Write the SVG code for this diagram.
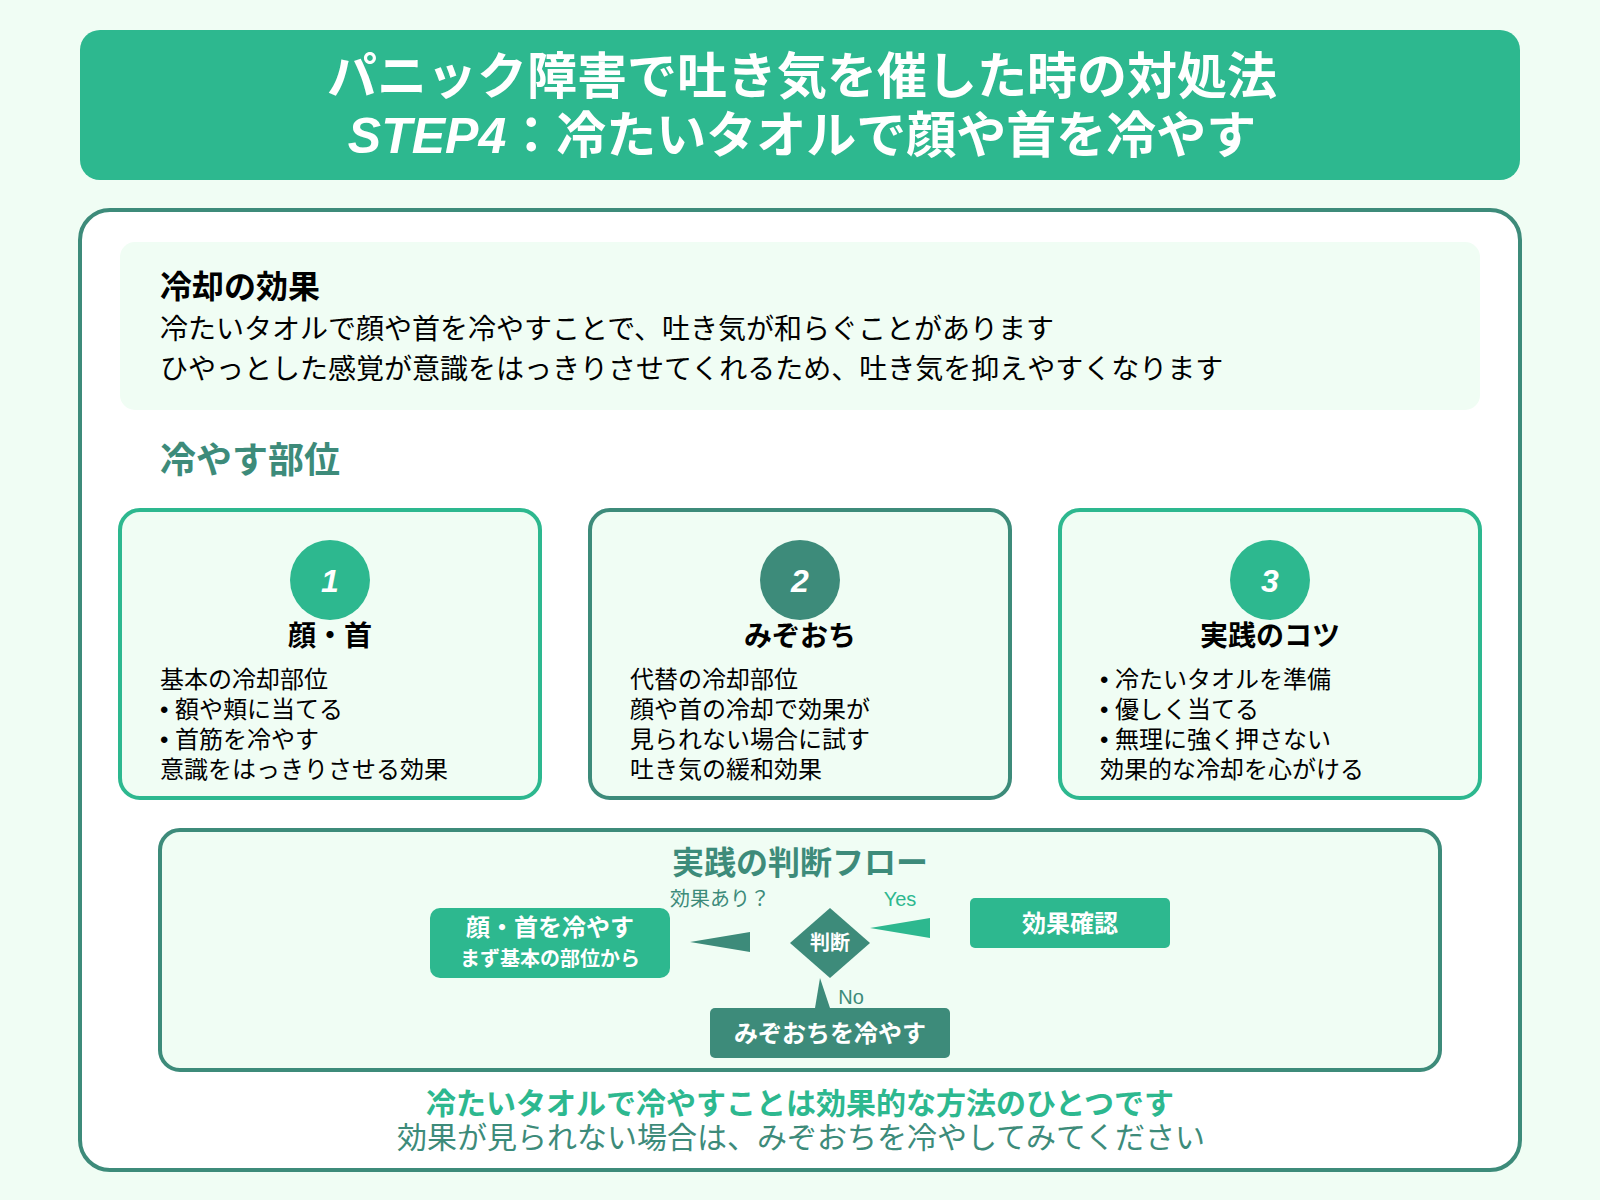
<svg xmlns="http://www.w3.org/2000/svg" width="1600" height="1200" viewBox="0 0 1600 1200">
<style>
text{font-family:"Liberation Sans","Noto Sans CJK JP",sans-serif}
.c{text-anchor:middle}
.b{font-weight:700}
.w{fill:#fff}
.g{fill:#2db88f}
.d{fill:#3d8b7a}
.k{fill:#000}
.body{font-size:28px;fill:#000}
.ct{font-size:24px;fill:#000}
.cardt{font-size:28px;font-weight:700;fill:#000;text-anchor:middle}
.num{font-size:32px;font-weight:700;font-style:italic;fill:#fff;text-anchor:middle}
.card{fill:#f0fdf4;stroke-width:4}
</style>
<rect width="1600" height="1200" fill="#f0fdf4"/>
<g id="header">
<rect x="80" y="30" width="1440" height="150" rx="20" class="g"/>
<text x="802" y="94" class="c b w" font-size="50">パニック障害で吐き気を催した時の対処法</text>
<text x="802" y="153" class="c b w" font-size="50"><tspan font-style="italic">STEP4</tspan>：冷たいタオルで顔や首を冷やす</text>
</g>
<g id="main">
<rect x="80" y="210" width="1440" height="960" rx="30" fill="#fff" stroke="#3d8b7a" stroke-width="4"/>
</g>
<g id="effect">
<rect x="120" y="242" width="1360" height="168" rx="15" fill="#f0fdf4"/>
<text x="160" y="298" class="b k" font-size="32">冷却の効果</text>
<text x="160" y="339" class="body">冷たいタオルで顔や首を冷やすことで、吐き気が和らぐことがあります</text>
<text x="160" y="379" class="body">ひやっとした感覚が意識をはっきりさせてくれるため、吐き気を抑えやすくなります</text>
</g>
<text x="160" y="473" class="b d" font-size="36">冷やす部位</text>
<g id="card1">
<rect x="120" y="510" width="420" height="288" rx="20" class="card" stroke="#2db88f"/>
<circle cx="330" cy="580" r="40" class="g"/>
<text x="330" y="592" class="num">1</text>
<text x="330" y="646" class="cardt">顔・首</text>
<text x="160" y="688" class="ct">基本の冷却部位</text>
<text x="160" y="718" class="ct">• 額や頬に当てる</text>
<text x="160" y="748" class="ct">• 首筋を冷やす</text>
<text x="160" y="778" class="ct">意識をはっきりさせる効果</text>
</g>
<g id="card2">
<rect x="590" y="510" width="420" height="288" rx="20" class="card" stroke="#3d8b7a"/>
<circle cx="800" cy="580" r="40" class="d"/>
<text x="800" y="592" class="num">2</text>
<text x="800" y="646" class="cardt">みぞおち</text>
<text x="630" y="688" class="ct">代替の冷却部位</text>
<text x="630" y="718" class="ct">顔や首の冷却で効果が</text>
<text x="630" y="748" class="ct">見られない場合に試す</text>
<text x="630" y="778" class="ct">吐き気の緩和効果</text>
</g>
<g id="card3">
<rect x="1060" y="510" width="420" height="288" rx="20" class="card" stroke="#2db88f"/>
<circle cx="1270" cy="580" r="40" class="g"/>
<text x="1270" y="592" class="num">3</text>
<text x="1270" y="646" class="cardt">実践のコツ</text>
<text x="1100" y="688" class="ct">• 冷たいタオルを準備</text>
<text x="1100" y="718" class="ct">• 優しく当てる</text>
<text x="1100" y="748" class="ct">• 無理に強く押さない</text>
<text x="1100" y="778" class="ct">効果的な冷却を心がける</text>
</g>
<g id="flow">
<rect x="160" y="830" width="1280" height="240" rx="20" fill="#f0fdf4" stroke="#3d8b7a" stroke-width="4"/>
<text x="800" y="874" class="c b d" font-size="32">実践の判断フロー</text>
</g>
<g id="connectors">
<polygon points="690,942 750,932 750,952" class="d"/>
<polygon points="870,928 930,918 930,938" class="g"/>
<polygon points="820,978 815,1008 830,1008" class="d"/>
<text x="720" y="906" class="c d" font-size="20">効果あり？</text>
<text x="900" y="906" class="c g" font-size="20">Yes</text>
<text x="851" y="1004" class="c d" font-size="20">No</text>
</g>
<g id="node-face">
<rect x="430" y="908" width="240" height="70" rx="10" class="g"/>
<text x="550" y="936" class="c b w" font-size="24">顔・首を冷やす</text>
<text x="550" y="966" class="c b w" font-size="20">まず基本の部位から</text>
</g>
<g id="node-decision">
<polygon points="830,908 870,943 830,978 790,943" class="d"/>
<text x="830" y="950" class="c b w" font-size="20">判断</text>
</g>
<g id="node-check">
<rect x="970" y="898" width="200" height="50" rx="5" class="g"/>
<text x="1070" y="932" class="c b w" font-size="24">効果確認</text>
</g>
<g id="node-solar">
<rect x="710" y="1008" width="240" height="50" rx="5" class="d"/>
<text x="830" y="1042" class="c b w" font-size="24">みぞおちを冷やす</text>
</g>
<g id="footer">
<text x="800" y="1114" class="c b g" font-size="30">冷たいタオルで冷やすことは効果的な方法のひとつです</text>
<text x="801" y="1148" class="c d" font-size="30">効果が見られない場合は、みぞおちを冷やしてみてください</text>
</g>
</svg>
